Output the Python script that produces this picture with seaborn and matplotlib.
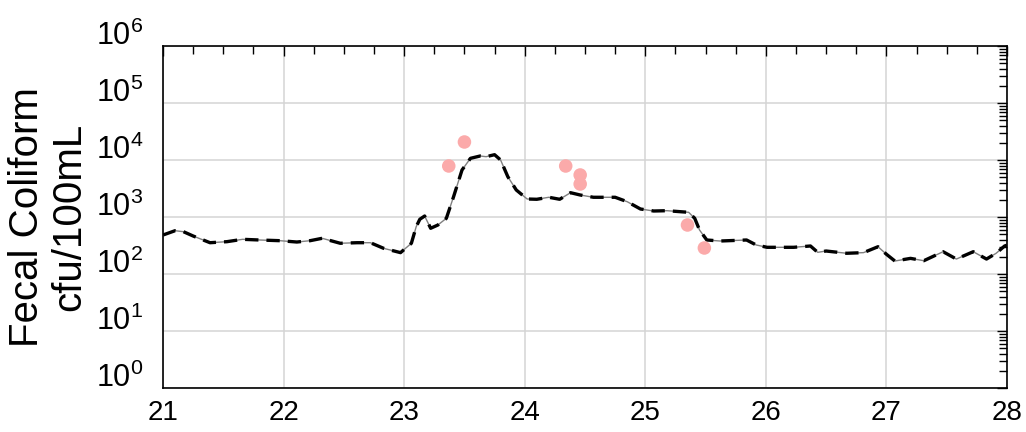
import numpy as np
import pandas as pd
import matplotlib
matplotlib.use("Agg")
import matplotlib.pyplot as plt
import matplotlib.transforms as mtransforms
import seaborn as sns
from matplotlib.ticker import LogLocator, NullFormatter, MultipleLocator, FixedLocator

# --- data -------------------------------------------------------------
model_day = [21.00, 21.10, 21.17, 21.25, 21.39, 21.53, 21.66, 21.80, 21.97, 22.11,
             22.22, 22.32, 22.47, 22.61, 22.72, 22.83, 22.97, 23.06, 23.10, 23.13,
             23.17, 23.22, 23.28, 23.35, 23.41, 23.48, 23.55, 23.63, 23.68, 23.75,
             23.80, 23.86, 23.93, 24.02, 24.10, 24.20, 24.29, 24.38, 24.46, 24.57,
             24.75, 24.85, 24.96, 25.07, 25.18, 25.36, 25.41, 25.45, 25.51, 25.62,
             25.84, 25.92, 26.01, 26.23, 26.37, 26.43, 26.50, 26.67, 26.81, 26.93,
             27.00, 27.07, 27.20, 27.31, 27.47, 27.58, 27.72, 27.83, 27.91, 27.98,
             28.00]
model_fc = [483, 575, 552, 464, 354, 369, 406, 395, 384, 364,
            384, 423, 346, 354, 354, 282, 237, 346, 676, 912,
            1041, 634, 724, 948, 2270, 6680, 10700, 11750, 11430, 12390,
            10000, 5090, 2978, 2070, 2046, 2218, 2046, 2669, 2432, 2218,
            2218, 1855, 1381, 1274, 1290, 1208, 948, 591, 395, 379,
            395, 323, 294, 294, 310, 240, 253, 231, 237, 301,
            222, 169, 188, 171, 246, 183, 246, 183, 231, 310,
            320]

obs_day = [23.37, 23.50, 24.34, 24.46, 24.46, 25.35, 25.49]
obs_fc = [7850, 20700, 7850, 5460, 3790, 724, 286]

x_ticks = [21, 22, 23, 24, 25, 26, 27, 28]
y_exponents = [0, 1, 2, 3, 4, 5, 6]
y_label = "Fecal Coliform\ncfu/100mL"

# --- style ------------------------------------------------------------
sns.set_style("white")
plt.rcParams["font.family"] = ["Liberation Sans", "DejaVu Sans"]
plt.rcParams["mathtext.fontset"] = "custom"
plt.rcParams["mathtext.rm"] = "Liberation Sans"
plt.rcParams["mathtext.it"] = "Liberation Sans"
plt.rcParams["mathtext.bf"] = "Liberation Sans"
plt.rcParams["text.color"] = "black"
plt.rcParams["axes.labelcolor"] = "black"
plt.rcParams["xtick.color"] = "black"
plt.rcParams["ytick.color"] = "black"

fig = plt.figure(figsize=(10.26, 4.32), dpi=100)
ax = fig.add_axes([163 / 1026, 1 - 388 / 432, (1007 - 163) / 1026, (388 - 46) / 432])

model = pd.DataFrame({"day": model_day, "fc": model_fc})
obs = pd.DataFrame({"day": obs_day, "fc": obs_fc})

sns.lineplot(data=model, x="day", y="fc", ax=ax, color="#808080", lw=1.0, zorder=3)
sns.lineplot(data=model, x="day", y="fc", ax=ax, color="black", lw=2.4,
             zorder=4).lines[-1].set_dashes([4, 2.4])
sns.scatterplot(data=obs, x="day", y="fc", ax=ax, color="#fbaaaa", s=95,
                edgecolor="none", zorder=5)

ax.set_yscale("log")
ax.set_xlim(21, 28)
ax.set_ylim(1, 1e6)

ax.xaxis.set_major_locator(FixedLocator(x_ticks))
ax.set_xticklabels([str(t) for t in x_ticks], fontsize=20)
ax.xaxis.set_minor_locator(MultipleLocator(0.25))

ax.yaxis.set_major_locator(FixedLocator([10.0 ** e for e in y_exponents]))
ax.set_yticklabels([r"$10^{%d}$" % e for e in y_exponents], fontsize=22,
                   va="bottom")
ax.yaxis.set_minor_locator(LogLocator(base=10, subs=np.arange(2, 10), numticks=20))
ax.yaxis.set_minor_formatter(NullFormatter())

ax.grid(True, which="major", color="#d4d4d4", lw=1.1, zorder=0)
ax.set_axisbelow(True)

for s in ax.spines.values():
    s.set_color("black")
    s.set_linewidth(1.2)

ax.tick_params(axis="both", which="both", direction="in", top=True, right=True,
               color="black", width=1.0)
ax.tick_params(axis="both", which="major", length=7)
ax.tick_params(axis="both", which="minor", length=6)
ax.tick_params(axis="x", which="major", pad=9)
ax.tick_params(axis="y", which="major", pad=14)

shift = mtransforms.ScaledTranslation(0, -4 / 72, fig.dpi_scale_trans)
for lab in ax.get_yticklabels():
    lab.set_transform(lab.get_transform() + shift)

ax.set_xlabel("")
ax.set_ylabel(y_label, fontsize=29, linespacing=1.15)
ax.yaxis.set_label_coords(-0.088, 0.5)

fig.savefig("out.png", dpi=100)
